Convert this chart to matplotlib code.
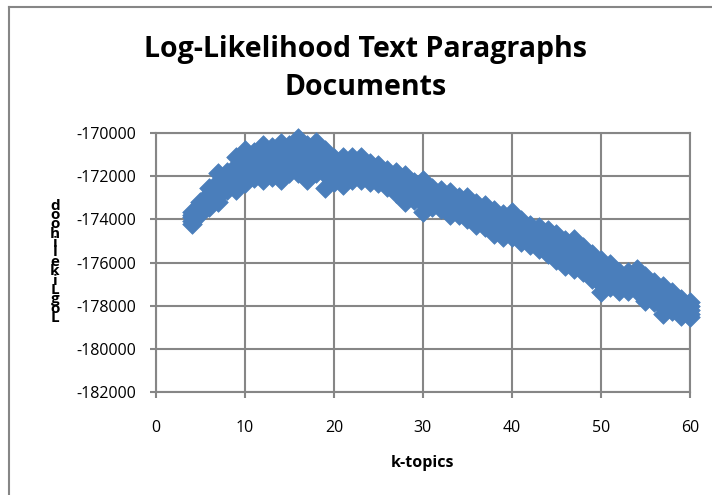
import numpy as np
import matplotlib.pyplot as plt
from matplotlib.lines import Line2D

# k values and several runs of the log-likelihood for each k
k_topics = list(range(4, 61))

run_a = [-173650, -173185, -172560, -171865, -171785, -171085, -170775, -170855, -170545, -170620,
         -170465, -170545, -170235, -170545, -170390, -170775, -171165, -171085, -171085, -171085,
         -171400, -171475, -171710, -171785, -171940, -172250, -172175, -172560, -172640, -172720,
         -172950, -172950, -173260, -173340, -173570, -173730, -173650, -174040, -174270, -174350,
         -174505, -174660, -174970, -174890, -175280, -175590, -175900, -176055, -176445, -176445,
         -176290, -176600, -176910, -177065, -177375, -177690, -177845]
run_b = [-173800, -173350, -172800, -172250, -172000, -171500, -171200, -171150, -170950, -170950,
         -170900, -170850, -170650, -170950, -170750, -171150, -171400, -171400, -171350, -171350,
         -171600, -171700, -171900, -172050, -172250, -172450, -172550, -172750, -172850, -173000,
         -173150, -173200, -173500, -173600, -173850, -174000, -173950, -174300, -174500, -174600,
         -174800, -174950, -175250, -175250, -175550, -175900, -176250, -176300, -176650, -176650,
         -176550, -176900, -177150, -177400, -177600, -177900, -178000]
run_c = [-173900, -173450, -173000, -172600, -172250, -171900, -171600, -171450, -171350, -171300,
         -171300, -171200, -171050, -171350, -171100, -171500, -171700, -171700, -171600, -171650,
         -171800, -171900, -172100, -172300, -172550, -172650, -172900, -172950, -173050, -173250,
         -173350, -173450, -173750, -173850, -174100, -174250, -174250, -174550, -174750, -174850,
         -175050, -175250, -175550, -175600, -175850, -176150, -176600, -176600, -176850, -176900,
         -176800, -177200, -177400, -177750, -177800, -178100, -178200]
run_d = [-174050, -173600, -173200, -172900, -172450, -172200, -171950, -171800, -171800, -171700,
         -171750, -171550, -171450, -171750, -171450, -171900, -171950, -172050, -171900, -171900,
         -172050, -172100, -172300, -172550, -172850, -172900, -173250, -173200, -173300, -173550,
         -173600, -173700, -174000, -174100, -174400, -174550, -174550, -174800, -174950, -175100,
         -175300, -175600, -175850, -175950, -176150, -176450, -177000, -176850, -177050, -177100,
         -177050, -177500, -177600, -178050, -178000, -178300, -178400]
run_e = [-174195, -173730, -173415, -173185, -172640, -172640, -172330, -172095, -172175, -172020,
         -172175, -171865, -171865, -172175, -171865, -172560, -172250, -172405, -172175, -172175,
         -172250, -172330, -172485, -172795, -173185, -173105, -173650, -173415, -173495, -173805,
         -173805, -173960, -174270, -174350, -174660, -174815, -174815, -175050, -175200, -175360,
         -175590, -175900, -176135, -176290, -176445, -176755, -177375, -177145, -177300, -177300,
         -177300, -177765, -177845, -178385, -178230, -178465, -178540]

x_ticks = [0, 10, 20, 30, 40, 50, 60]
y_ticks = [-182000, -180000, -178000, -176000, -174000, -172000, -170000]

title_lines = 'Log-Likelihood Text Paragraphs\nDocuments'
x_label = 'k-topics'
y_label = 'LogLikelihood'

grid_col = '#868686'
blue = '#4A7EBB'

fig = plt.figure(figsize=(7.12, 4.95), dpi=100)
ax = fig.add_axes([0.219, 0.208, 0.750, 0.523])

for run in [run_a, run_b, run_c, run_d, run_e]:
    ax.scatter(k_topics, run, marker='D', s=100, color=blue, edgecolors=blue,
               linewidths=0.5, zorder=3, clip_on=False)

ax.set_xlim(0, 60)
ax.set_ylim(-182000, -170000)
ax.set_xticks(x_ticks)
ax.set_yticks(y_ticks)
ax.set_xticklabels([str(v) for v in x_ticks])
ax.set_yticklabels([str(v) for v in y_ticks])
ax.grid(True, color=grid_col, linewidth=1.5)
ax.set_axisbelow(True)
for s in ax.spines.values():
    s.set_color(grid_col)
    s.set_linewidth(1.5)
ax.tick_params(direction='out', length=4, width=1.5, color=grid_col, labelsize=11.5)
ax.tick_params(axis='x', pad=16)
ax.tick_params(axis='y', pad=10)

fnt = 'Open Sans'
for lab in ax.get_xticklabels() + ax.get_yticklabels():
    lab.set_family(fnt)

ax.set_xlabel(x_label, fontsize=11.5, fontweight='bold', family=fnt, labelpad=14)

fig.text(0.514, 0.861, title_lines, ha='center', va='center', fontsize=20.5,
         fontweight='bold', family=fnt, linespacing=1.42)

# stacked y label, read bottom to top
fig.text(0.077, 0.471, '\n'.join(reversed(y_label)), ha='center', va='center',
         fontsize=11, fontweight='bold', family=fnt, linespacing=0.58)

# outer chart frame (cut at right and bottom)
fig.add_artist(Line2D([0.0126, 0.0126], [0.0, 0.986], color=grid_col, lw=1.5,
                      transform=fig.transFigure))
fig.add_artist(Line2D([0.0126, 1.0], [0.986, 0.986], color=grid_col, lw=1.5,
                      transform=fig.transFigure))

fig.savefig('out.png', dpi=100)
